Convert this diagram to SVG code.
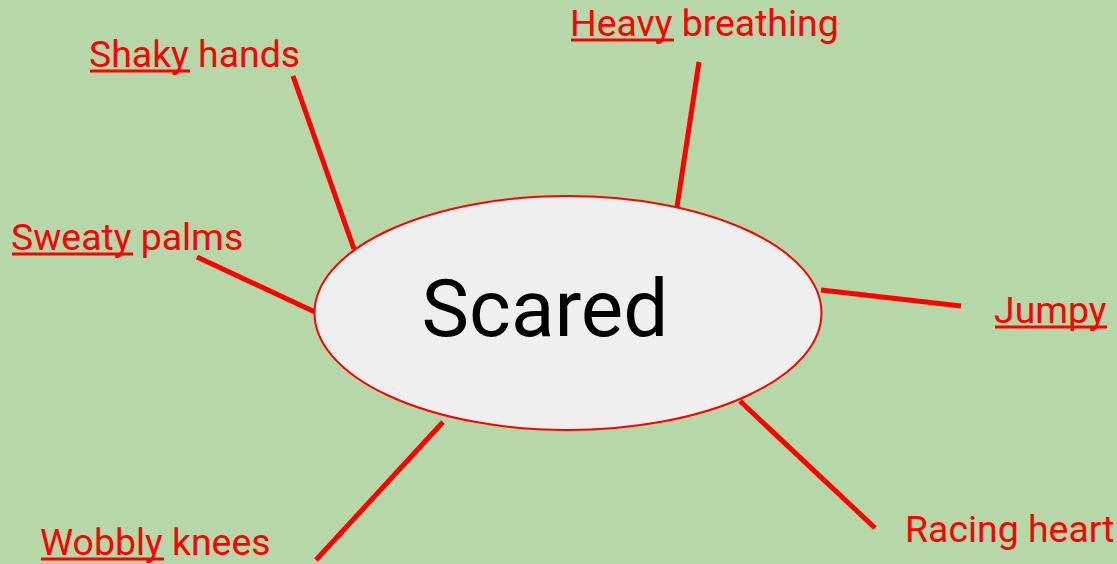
<svg xmlns="http://www.w3.org/2000/svg" width="1117" height="564" viewBox="0 0 1117 564">
  <style>
    .lbl { font-family: Roboto, "Liberation Sans", sans-serif; font-size: 37.4px; fill: #ff0000; }
    .ul { fill: #ff0000; }
    .conn line { stroke: #ff0000; stroke-width: 5; stroke-linecap: butt; }
    .center { fill: #efefef; stroke: #ff0000; stroke-width: 2; }
    .title { font-family: Roboto, "Liberation Sans", sans-serif; font-size: 80px; fill: #000000; }
  </style>
  <rect x="0" y="0" width="1117" height="564" fill="#b6d7a8"/>
  <g id="connectors" class="conn">
    <line x1="293" y1="76" x2="354" y2="249"/>
    <line x1="197" y1="257" x2="315" y2="312"/>
    <line x1="699" y1="62" x2="677" y2="207"/>
    <line x1="821" y1="290" x2="961" y2="306"/>
    <line x1="740" y1="401" x2="875" y2="528"/>
    <line x1="443" y1="422" x2="316" y2="560"/>
  </g>
  <g id="node-scared">
    <ellipse class="center" cx="568" cy="313" rx="253.5" ry="117"/>
    <text class="title" x="545" y="336" text-anchor="middle">Scared</text>
  </g>
  <g id="node-shaky">
    <text class="lbl" x="89" y="67">Shaky hands</text>
    <rect class="ul" x="90" y="69.5" width="100" height="3"/>
  </g>
  <g id="node-sweaty">
    <text class="lbl" x="11" y="250">Sweaty palms</text>
    <rect class="ul" x="12" y="252.5" width="121" height="3"/>
  </g>
  <g id="node-heavy">
    <text class="lbl" x="570" y="36">Heavy breathing</text>
    <rect class="ul" x="571" y="38.5" width="103" height="3"/>
  </g>
  <g id="node-jumpy">
    <text class="lbl" x="994" y="323">Jumpy</text>
    <rect class="ul" x="995" y="325.5" width="112" height="3"/>
  </g>
  <g id="node-racing">
    <text class="lbl" x="905" y="542">Racing heart</text>
  </g>
  <g id="node-wobbly">
    <text class="lbl" x="40" y="555">Wobbly knees</text>
    <rect class="ul" x="41" y="557.5" width="123" height="3"/>
  </g>
</svg>
